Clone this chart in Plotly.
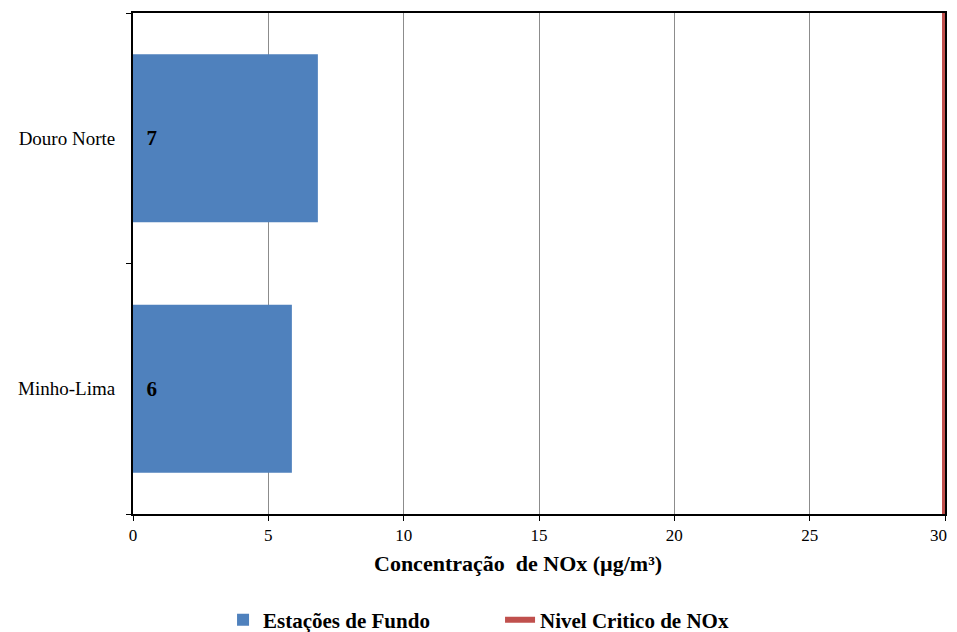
import plotly.graph_objects as go

# data
regions = ["Minho-Lima", "Douro Norte"]
nox_fundo = [5.87, 6.83]
nivel_critico = 30
x_ticks = [0, 5, 10, 15, 20, 25, 30]
x_tick_labels = ["0", "5", "10", "15", "20", "25", ""]  # "30" drawn separately so it is not cut at the edge

FONT = "Liberation Serif"

fig = go.Figure()

fig.add_trace(go.Bar(
    y=regions,
    x=nox_fundo,
    orientation="h",
    name="Estações de Fundo",
    marker=dict(color="#4F81BD", line=dict(width=0)),
    width=0.67,
    texttemplate="&nbsp;&nbsp;<b>%{x:.0f}</b>",
    textposition="inside",
    insidetextanchor="start",
    textfont=dict(family=FONT, size=21, color="black"),
    hoverinfo="x+y",
))

# critical level drawn as a vertical line over the full plot height
fig.add_trace(go.Scatter(
    x=[nivel_critico, nivel_critico],
    y=[0, 1],
    yaxis="y2",
    mode="lines",
    name="Nivel Critico de NOx",
    line=dict(color="#C0504D", width=6),
    cliponaxis=False,
))

# the page body has an 8px margin, so the figure is shifted by 8px
fig.update_layout(
    width=949,
    height=624,
    margin=dict(l=125, r=12, t=5, b=118, autoexpand=False),
    paper_bgcolor="white",
    plot_bgcolor="white",
    font=dict(family=FONT, size=17, color="black"),
    bargap=0.33,
    showlegend=True,
    legend=dict(
        orientation="h",
        xref="container", yref="container",
        x=0.2266, xanchor="left",
        y=0.019, yanchor="middle",
        font=dict(family=FONT, size=21, color="black", weight="bold"),
        entrywidth=232,
        entrywidthmode="pixels",
        traceorder="normal",
    ),
    xaxis=dict(
        range=[0, 30],
        tickvals=x_ticks,
        ticktext=x_tick_labels,
        ticks="outside",
        ticklen=5,
        tickcolor="black",
        showgrid=True,
        gridcolor="#8c8c8c",
        gridwidth=1,
        showline=True,
        linecolor="black",
        linewidth=2,
        mirror=True,
        zeroline=False,
        automargin=False,
        tickfont=dict(family=FONT, size=17),
    ),
    yaxis=dict(
        categoryorder="array",
        categoryarray=regions,
        tickson="boundaries",
        ticks="outside",
        ticklen=5,
        tickcolor="black",
        showgrid=False,
        showline=True,
        linecolor="black",
        linewidth=2,
        mirror=True,
        automargin=False,
        ticklabelstandoff=12,
        tickfont=dict(family=FONT, size=19),
    ),
    yaxis2=dict(
        overlaying="y",
        range=[0, 1],
        visible=False,
    ),
    annotations=[
        dict(
            text="<b>Concentração  de NOx (µg/m³)</b>",
            xref="paper", yref="paper",
            x=0.474, xanchor="center",
            y=-0.098, yanchor="middle",
            showarrow=False,
            font=dict(family=FONT, size=22, color="black"),
        ),
        dict(
            text=str(x_ticks[-1]),
            xref="paper", yref="paper",
            x=1, xanchor="right", xshift=4,
            y=-0.043, yanchor="middle",
            showarrow=False,
            font=dict(family=FONT, size=17, color="black"),
        ),
    ],
)

fig.write_html("out.html")
